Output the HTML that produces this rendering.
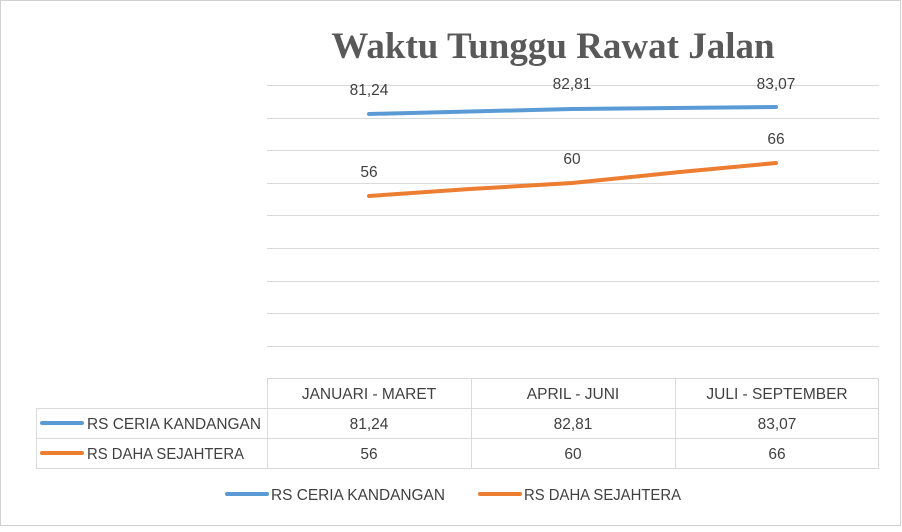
<!DOCTYPE html>
<html><head><style>
body{margin:0;background:#fff;}
svg text{font-family:"Liberation Sans",sans-serif;fill:#404040;}
</style></head><body>
<svg width="902" height="527" xmlns="http://www.w3.org/2000/svg">
<rect x="0.5" y="0.5" width="900" height="525" fill="#fff" stroke="#d0d0d0"/>
<text x="553" y="58" text-anchor="middle" style="font-family:'Liberation Serif',serif;font-weight:bold;font-size:37px;fill:#595959">Waktu Tunggu Rawat Jalan</text>
<g stroke="#d9d9d9" stroke-width="1">
<line x1="267" x2="879" y1="85.5" y2="85.5"/><line x1="267" x2="879" y1="118.5" y2="118.5"/>
<line x1="267" x2="879" y1="150.5" y2="150.5"/><line x1="267" x2="879" y1="183.5" y2="183.5"/>
<line x1="267" x2="879" y1="215.5" y2="215.5"/><line x1="267" x2="879" y1="248.5" y2="248.5"/>
<line x1="267" x2="879" y1="281.5" y2="281.5"/><line x1="267" x2="879" y1="313.5" y2="313.5"/>
<line x1="267" x2="879" y1="346.5" y2="346.5"/>
<line x1="267" x2="879" y1="378.5" y2="378.5"/>
<line x1="36" x2="879" y1="408.5" y2="408.5"/><line x1="36" x2="879" y1="438.5" y2="438.5"/>
<line x1="36" x2="879" y1="468.5" y2="468.5"/>
<line x1="267.5" x2="267.5" y1="378" y2="468"/><line x1="471.5" x2="471.5" y1="378" y2="468"/>
<line x1="675.5" x2="675.5" y1="378" y2="468"/><line x1="878.5" x2="878.5" y1="378" y2="468"/>
<line x1="36.5" x2="36.5" y1="408" y2="468"/>
</g>
<polyline points="369,114 572,109 776,107" fill="none" stroke="#5b9bd5" stroke-width="4" stroke-linecap="round"/>
<polyline points="369,196 470,189 572,183 680,172 776,163" fill="none" stroke="#ed7d31" stroke-width="4" stroke-linecap="round"/>
<g font-size="15.5" text-anchor="middle">
<text x="369" y="95">81,24</text><text x="572" y="89">82,81</text><text x="776" y="89">83,07</text>
<text x="369" y="177">56</text><text x="572" y="164">60</text><text x="776" y="144">66</text>
<text x="369" y="399">JANUARI - MARET</text><text x="573" y="399">APRIL - JUNI</text><text x="777" y="399">JULI - SEPTEMBER</text>
<text x="369" y="429">81,24</text><text x="573" y="429">82,81</text><text x="777" y="429">83,07</text>
<text x="369" y="459">56</text><text x="573" y="459">60</text><text x="777" y="459">66</text>
</g>
<g font-size="15.5">
<line x1="42" x2="82" y1="423" y2="423" stroke="#5b9bd5" stroke-width="4" stroke-linecap="round"/>
<text x="87" y="429" textLength="174" lengthAdjust="spacingAndGlyphs">RS CERIA KANDANGAN</text>
<line x1="42" x2="82" y1="453" y2="453" stroke="#ed7d31" stroke-width="4" stroke-linecap="round"/>
<text x="87" y="459" textLength="157" lengthAdjust="spacingAndGlyphs">RS DAHA SEJAHTERA</text>
<line x1="227" x2="267" y1="494" y2="494" stroke="#5b9bd5" stroke-width="4" stroke-linecap="round"/>
<text x="271" y="500" textLength="174" lengthAdjust="spacingAndGlyphs">RS CERIA KANDANGAN</text>
<line x1="480" x2="520" y1="494" y2="494" stroke="#ed7d31" stroke-width="4" stroke-linecap="round"/>
<text x="524" y="500" textLength="157" lengthAdjust="spacingAndGlyphs">RS DAHA SEJAHTERA</text>
</g>
</svg>
</body></html>
